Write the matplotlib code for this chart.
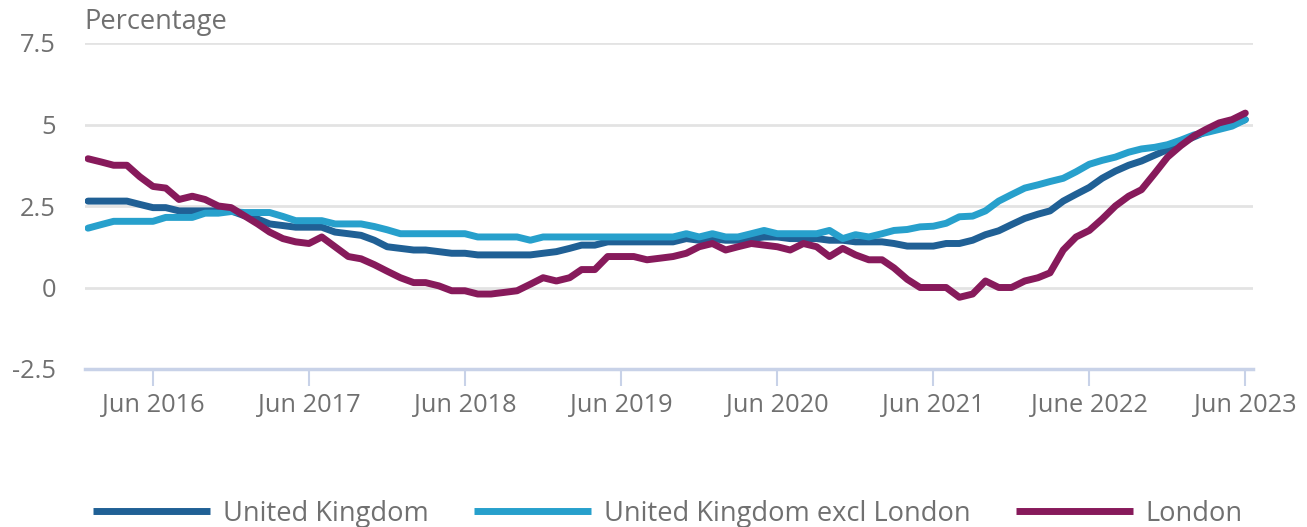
import numpy as np
import pandas as pd
import matplotlib
matplotlib.use("Agg")
import matplotlib.pyplot as plt

plt.rcParams['font.family'] = ['Open Sans', 'DejaVu Sans']

# monthly 12-month change in private rents, Jan 2016 - Jun 2023
months = pd.date_range("2016-01-01", periods=90, freq="MS")

uk = [2.65, 2.65, 2.65, 2.65, 2.55, 2.45, 2.45, 2.35, 2.35, 2.35, 2.35, 2.35,
      2.2, 2.1, 1.95, 1.9, 1.85, 1.85, 1.85, 1.7, 1.65, 1.6, 1.45, 1.25,
      1.2, 1.15, 1.15, 1.1, 1.05, 1.05, 1.0, 1.0, 1.0, 1.0, 1.0, 1.05,
      1.1, 1.2, 1.3, 1.3, 1.4, 1.4, 1.4, 1.4, 1.4, 1.4, 1.5, 1.45,
      1.5, 1.45, 1.45, 1.5, 1.55, 1.55, 1.5, 1.5, 1.5, 1.45, 1.45, 1.4,
      1.4, 1.4, 1.35, 1.27, 1.27, 1.27, 1.35, 1.35, 1.45, 1.62, 1.74, 1.93,
      2.12, 2.25, 2.35, 2.65, 2.86, 3.07, 3.35, 3.57, 3.75, 3.88, 4.06, 4.23,
      4.45, 4.62, 4.78, 4.9, 5.0, 5.15]

uk_excl_london = [1.82, 1.93, 2.03, 2.03, 2.03, 2.03, 2.15, 2.15, 2.15, 2.28, 2.28, 2.33,
                  2.3, 2.3, 2.3, 2.18, 2.05, 2.05, 2.05, 1.95, 1.95, 1.95, 1.87, 1.77,
                  1.65, 1.65, 1.65, 1.65, 1.65, 1.65, 1.55, 1.55, 1.55, 1.55, 1.45, 1.55,
                  1.55, 1.55, 1.55, 1.55, 1.55, 1.55, 1.55, 1.55, 1.55, 1.55, 1.65, 1.55,
                  1.65, 1.55, 1.55, 1.65, 1.75, 1.65, 1.65, 1.65, 1.65, 1.75, 1.5, 1.62,
                  1.55, 1.65, 1.75, 1.78, 1.86, 1.88, 1.97, 2.17, 2.19, 2.35, 2.65, 2.85,
                  3.05, 3.15, 3.25, 3.35, 3.55, 3.78, 3.9, 4.0, 4.15, 4.25, 4.3, 4.38,
                  4.52, 4.68, 4.75, 4.85, 4.95, 5.15]

london = [3.95, 3.85, 3.75, 3.75, 3.4, 3.1, 3.05, 2.7, 2.8, 2.7, 2.5, 2.45,
          2.2, 1.95, 1.7, 1.5, 1.4, 1.35, 1.55, 1.25, 0.95, 0.88, 0.7, 0.5,
          0.3, 0.15, 0.15, 0.05, -0.1, -0.1, -0.2, -0.2, -0.15, -0.1, 0.1, 0.3,
          0.2, 0.3, 0.55, 0.55, 0.95, 0.95, 0.95, 0.85, 0.9, 0.95, 1.05, 1.25,
          1.35, 1.15, 1.25, 1.35, 1.3, 1.25, 1.15, 1.35, 1.25, 0.95, 1.2, 1.0,
          0.85, 0.85, 0.6, 0.25, 0.0, 0.0, 0.0, -0.3, -0.2, 0.2, 0.0, 0.0,
          0.2, 0.3, 0.45, 1.15, 1.55, 1.75, 2.1, 2.5, 2.8, 3.0, 3.5, 4.0,
          4.35, 4.65, 4.85, 5.05, 5.15, 5.35]

tick_dates = pd.to_datetime(["2016-06-01", "2017-06-01", "2018-06-01", "2019-06-01",
                             "2020-06-01", "2021-06-01", "2022-06-01", "2023-06-01"])
tick_labels = ["Jun 2016", "Jun 2017", "Jun 2018", "Jun 2019",
               "Jun 2020", "Jun 2021", "June 2022", "Jun 2023"]
y_ticks = [-2.5, 0, 2.5, 5, 7.5]
y_labels = ["-2.5", "0", "2.5", "5", "7.5"]

grey = "#707070"
fig = plt.figure(figsize=(13.07, 5.27), dpi=100)
ax = fig.add_axes([85 / 1307, 1 - 369 / 527, 1168 / 1307, 326 / 527])

ax.plot(months, uk, color="#206095", lw=5, label="United Kingdom", solid_capstyle="round")
ax.plot(months, uk_excl_london, color="#27a0cc", lw=5, label="United Kingdom excl London",
        solid_capstyle="round")
ax.plot(months, london, color="#871a5b", lw=5, label="London", solid_capstyle="round")

ax.set_ylim(-2.5, 7.5)
ax.set_xlim(months[0] - pd.Timedelta(days=7), months[-1] + pd.Timedelta(days=18))
ax.set_yticks(y_ticks)
ax.set_yticklabels(y_labels)
ax.set_xticks(tick_dates)
ax.set_xticklabels(tick_labels)

for v in y_ticks[1:]:
    ax.axhline(v, color="#e3e3e3", lw=2, zorder=0)

for s in ["top", "right", "left"]:
    ax.spines[s].set_visible(False)
ax.spines["bottom"].set_color("#c8d2e8")
ax.spines["bottom"].set_linewidth(2.5)

ax.tick_params(axis="y", length=0, pad=21, labelsize=18.3, labelcolor=grey)
ax.tick_params(axis="x", length=12, width=1.5, color="#c8d2e8", pad=5,
               labelsize=18.3, labelcolor=grey)

fig.text(84 / 1307, 1 - 22 / 527, "Percentage", fontsize=19.6, color=grey, va="center")

leg = fig.legend(loc="center", bbox_to_anchor=(668 / 1307, 1 - 514 / 527), ncol=3,
                 frameon=False, fontsize=19.6, handlelength=4.3, handletextpad=0.48,
                 columnspacing=1.65, labelcolor=grey)
for h in leg.get_lines():
    h.set_solid_capstyle("butt")

fig.savefig("out.png", dpi=100)
